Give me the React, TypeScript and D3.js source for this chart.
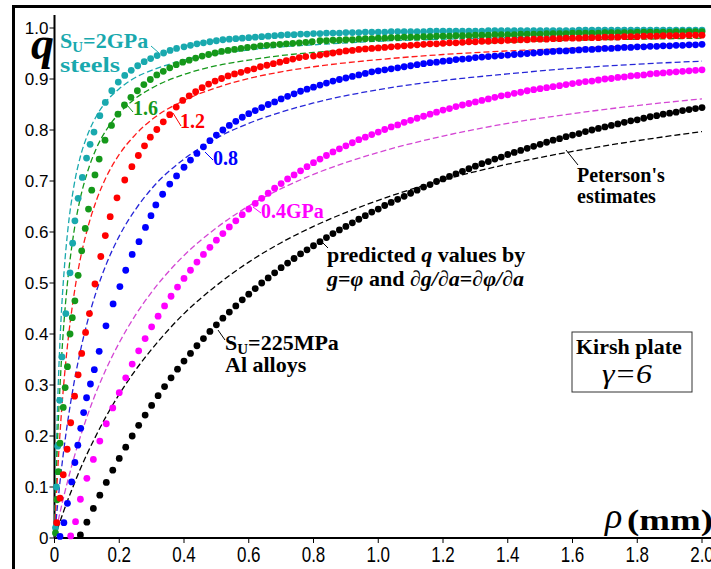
import React from 'react';
import * as d3 from 'd3';

type Pt = [number, number];

const xTicks = [0, 0.2, 0.4, 0.6, 0.8, 1.0, 1.2, 1.4, 1.6, 1.8, 2.0];
const yTicks = [0, 0.1, 0.2, 0.3, 0.4, 0.5, 0.6, 0.7, 0.8, 0.9, 1.0];

// Peterson's estimates (dashed), read at these rho values
const petersonRho = [0, 0.005, 0.01, 0.02, 0.03, 0.04, 0.06, 0.08, 0.1, 0.13, 0.16, 0.2, 0.25, 0.3, 0.4, 0.5, 0.6, 0.7, 0.8, 1.0, 1.2, 1.4, 1.6, 1.8, 2.0];
const cyanPeterson = [0, 0.156, 0.27, 0.426, 0.526, 0.597, 0.69, 0.748, 0.787, 0.828, 0.856, 0.881, 0.903, 0.917, 0.937, 0.949, 0.957, 0.963, 0.967, 0.974, 0.978, 0.981, 0.983, 0.985, 0.987];
const greenPeterson = [0, 0.111, 0.2, 0.333, 0.429, 0.5, 0.6, 0.667, 0.714, 0.765, 0.8, 0.833, 0.862, 0.882, 0.909, 0.926, 0.937, 0.946, 0.952, 0.962, 0.968, 0.972, 0.976, 0.978, 0.98];
const redPeterson = [0, 0.07, 0.132, 0.233, 0.312, 0.377, 0.476, 0.548, 0.602, 0.663, 0.708, 0.752, 0.791, 0.82, 0.858, 0.883, 0.901, 0.914, 0.924, 0.938, 0.948, 0.955, 0.96, 0.965, 0.968];
const bluePeterson = [0, 0.035, 0.068, 0.127, 0.179, 0.225, 0.303, 0.367, 0.42, 0.485, 0.537, 0.592, 0.644, 0.685, 0.743, 0.784, 0.813, 0.835, 0.853, 0.879, 0.897, 0.91, 0.921, 0.929, 0.935];
const magentaPeterson = [0, 0.015, 0.03, 0.058, 0.085, 0.11, 0.157, 0.199, 0.237, 0.288, 0.332, 0.383, 0.437, 0.482, 0.554, 0.608, 0.651, 0.685, 0.713, 0.756, 0.788, 0.813, 0.832, 0.848, 0.861];
const blackPeterson = [0, 0.0097, 0.0192, 0.0377, 0.0556, 0.0727, 0.105, 0.136, 0.164, 0.203, 0.239, 0.282, 0.329, 0.37, 0.44, 0.495, 0.541, 0.579, 0.611, 0.662, 0.702, 0.733, 0.758, 0.779, 0.797];

// predicted q values (dots)
const cyanDots: Pt[] = [[0.003,0.02],[0.006,0.1],[0.01,0.18],[0.016,0.27],[0.023,0.355],[0.035,0.44],[0.048,0.52],[0.056,0.578],[0.063,0.622],[0.073,0.666],[0.086,0.707],[0.099,0.745],[0.11,0.772],[0.122,0.796],[0.14,0.828],[0.157,0.854],[0.177,0.877],[0.197,0.894],[0.217,0.907],[0.237,0.917],[0.257,0.926],[0.277,0.934],[0.297,0.94],[0.317,0.946],[0.337,0.951],[0.357,0.956],[0.377,0.96],[0.4,0.963],[0.42,0.966],[0.44,0.969],[0.46,0.971],[0.48,0.973],[0.5,0.975],[0.52,0.977],[0.54,0.978],[0.56,0.979],[0.58,0.98],[0.6,0.981],[0.62,0.982],[0.64,0.983],[0.66,0.984],[0.68,0.985],[0.7,0.986],[0.72,0.987],[0.74,0.987],[0.76,0.988],[0.78,0.988],[0.8,0.989],[0.82,0.989],[0.84,0.99],[0.86,0.99],[0.88,0.99],[0.9,0.991],[0.92,0.991],[0.94,0.991],[0.96,0.992],[0.98,0.992],[1.0,0.992],[1.02,0.992],[1.04,0.993],[1.06,0.993],[1.08,0.993],[1.1,0.993],[1.12,0.993],[1.14,0.993],[1.16,0.994],[1.18,0.994],[1.2,0.994],[1.22,0.994],[1.24,0.994],[1.26,0.994],[1.28,0.994],[1.3,0.994],[1.32,0.994],[1.34,0.995],[1.36,0.995],[1.38,0.995],[1.4,0.995],[1.42,0.995],[1.44,0.995],[1.46,0.995],[1.48,0.995],[1.5,0.995],[1.52,0.995],[1.54,0.995],[1.56,0.995],[1.58,0.995],[1.6,0.995],[1.62,0.996],[1.64,0.996],[1.66,0.996],[1.68,0.996],[1.7,0.996],[1.72,0.996],[1.74,0.996],[1.76,0.996],[1.78,0.996],[1.8,0.996],[1.82,0.996],[1.84,0.996],[1.86,0.996],[1.88,0.996],[1.9,0.996],[1.92,0.996],[1.94,0.996],[1.96,0.996],[1.98,0.996],[2.0,0.996]];

const greenDots: Pt[] = [[0.003,0.01],[0.008,0.075],[0.012,0.13],[0.017,0.186],[0.027,0.256],[0.033,0.295],[0.04,0.336],[0.048,0.4],[0.055,0.432],[0.063,0.465],[0.073,0.515],[0.084,0.563],[0.095,0.607],[0.105,0.645],[0.115,0.682],[0.125,0.712],[0.138,0.743],[0.156,0.78],[0.176,0.809],[0.196,0.831],[0.216,0.849],[0.236,0.864],[0.256,0.877],[0.276,0.889],[0.296,0.899],[0.316,0.908],[0.336,0.915],[0.356,0.922],[0.376,0.928],[0.396,0.933],[0.416,0.937],[0.436,0.941],[0.456,0.945],[0.476,0.948],[0.496,0.951],[0.516,0.954],[0.536,0.956],[0.556,0.958],[0.576,0.96],[0.596,0.962],[0.616,0.963],[0.636,0.965],[0.656,0.966],[0.676,0.967],[0.696,0.968],[0.716,0.969],[0.736,0.97],[0.756,0.971],[0.776,0.972],[0.796,0.973],[0.82,0.975],[0.84,0.975],[0.86,0.976],[0.88,0.976],[0.9,0.977],[0.92,0.977],[0.94,0.978],[0.96,0.979],[0.98,0.979],[1.0,0.98],[1.02,0.98],[1.04,0.981],[1.06,0.981],[1.08,0.982],[1.1,0.982],[1.12,0.982],[1.14,0.983],[1.16,0.983],[1.18,0.984],[1.2,0.984],[1.22,0.984],[1.24,0.985],[1.26,0.985],[1.28,0.985],[1.3,0.986],[1.32,0.986],[1.34,0.986],[1.36,0.987],[1.38,0.987],[1.4,0.987],[1.42,0.987],[1.44,0.988],[1.46,0.988],[1.48,0.988],[1.5,0.988],[1.52,0.989],[1.54,0.989],[1.56,0.989],[1.58,0.989],[1.6,0.99],[1.62,0.99],[1.64,0.99],[1.66,0.99],[1.68,0.99],[1.7,0.991],[1.72,0.991],[1.74,0.991],[1.76,0.991],[1.78,0.991],[1.8,0.992],[1.82,0.992],[1.84,0.992],[1.86,0.992],[1.88,0.992],[1.9,0.992],[1.92,0.993],[1.94,0.993],[1.96,0.993],[1.98,0.993],[2.0,0.993]];

const redDots: Pt[] = [[0.007,0.03],[0.017,0.078],[0.027,0.124],[0.039,0.174],[0.05,0.226],[0.062,0.278],[0.073,0.32],[0.084,0.362],[0.096,0.403],[0.108,0.44],[0.125,0.498],[0.143,0.552],[0.157,0.593],[0.172,0.63],[0.193,0.667],[0.217,0.702],[0.239,0.728],[0.259,0.75],[0.278,0.769],[0.296,0.786],[0.316,0.801],[0.336,0.816],[0.356,0.83],[0.376,0.845],[0.396,0.858],[0.416,0.867],[0.436,0.875],[0.456,0.883],[0.476,0.89],[0.496,0.896],[0.516,0.901],[0.536,0.906],[0.556,0.91],[0.576,0.913],[0.596,0.917],[0.616,0.92],[0.636,0.924],[0.656,0.927],[0.676,0.93],[0.696,0.933],[0.716,0.936],[0.736,0.939],[0.756,0.942],[0.776,0.944],[0.8,0.945],[0.82,0.947],[0.84,0.949],[0.86,0.951],[0.88,0.953],[0.9,0.955],[0.92,0.956],[0.94,0.958],[0.96,0.959],[0.98,0.96],[1.0,0.961],[1.02,0.962],[1.04,0.963],[1.06,0.964],[1.08,0.965],[1.1,0.966],[1.12,0.967],[1.14,0.968],[1.16,0.969],[1.18,0.969],[1.2,0.97],[1.22,0.971],[1.24,0.971],[1.26,0.972],[1.28,0.973],[1.3,0.973],[1.32,0.974],[1.34,0.974],[1.36,0.975],[1.38,0.975],[1.4,0.976],[1.42,0.976],[1.44,0.977],[1.46,0.977],[1.48,0.978],[1.5,0.978],[1.52,0.978],[1.54,0.979],[1.56,0.979],[1.58,0.98],[1.6,0.98],[1.62,0.98],[1.64,0.981],[1.66,0.981],[1.68,0.981],[1.7,0.982],[1.72,0.982],[1.74,0.982],[1.76,0.983],[1.78,0.983],[1.8,0.983],[1.82,0.984],[1.84,0.984],[1.86,0.984],[1.88,0.985],[1.9,0.985],[1.92,0.985],[1.94,0.985],[1.96,0.986],[1.98,0.986],[2.0,0.986]];

const blueDots: Pt[] = [[0.017,0.003],[0.029,0.03],[0.04,0.068],[0.053,0.11],[0.063,0.148],[0.072,0.182],[0.081,0.215],[0.09,0.246],[0.099,0.275],[0.111,0.302],[0.123,0.33],[0.138,0.366],[0.159,0.416],[0.181,0.459],[0.202,0.493],[0.22,0.525],[0.24,0.556],[0.261,0.581],[0.281,0.609],[0.298,0.632],[0.313,0.653],[0.334,0.674],[0.356,0.694],[0.377,0.71],[0.4,0.727],[0.42,0.741],[0.44,0.754],[0.46,0.767],[0.48,0.779],[0.5,0.79],[0.52,0.8],[0.54,0.809],[0.56,0.817],[0.58,0.825],[0.6,0.832],[0.62,0.838],[0.64,0.844],[0.66,0.85],[0.68,0.855],[0.7,0.861],[0.72,0.866],[0.74,0.871],[0.76,0.876],[0.78,0.88],[0.8,0.884],[0.82,0.888],[0.84,0.892],[0.86,0.896],[0.88,0.899],[0.9,0.902],[0.92,0.905],[0.94,0.908],[0.96,0.911],[0.98,0.914],[1.0,0.916],[1.02,0.918],[1.04,0.92],[1.06,0.922],[1.08,0.924],[1.1,0.926],[1.12,0.928],[1.14,0.93],[1.16,0.932],[1.18,0.933],[1.2,0.935],[1.22,0.936],[1.24,0.938],[1.26,0.939],[1.28,0.94],[1.3,0.942],[1.32,0.943],[1.34,0.944],[1.36,0.945],[1.38,0.946],[1.4,0.947],[1.42,0.948],[1.44,0.949],[1.46,0.95],[1.48,0.951],[1.5,0.952],[1.52,0.953],[1.54,0.954],[1.56,0.955],[1.58,0.955],[1.6,0.956],[1.62,0.957],[1.64,0.958],[1.66,0.958],[1.68,0.959],[1.7,0.96],[1.72,0.96],[1.74,0.961],[1.76,0.962],[1.78,0.962],[1.8,0.963],[1.82,0.963],[1.84,0.964],[1.86,0.964],[1.88,0.965],[1.9,0.965],[1.92,0.966],[1.94,0.966],[1.96,0.967],[1.98,0.967],[2.0,0.968]];

const magentaDots: Pt[] = [[0.05,0.004],[0.065,0.032],[0.08,0.076],[0.1,0.117],[0.12,0.154],[0.14,0.19],[0.16,0.224],[0.18,0.255],[0.2,0.285],[0.22,0.314],[0.24,0.341],[0.26,0.367],[0.28,0.391],[0.3,0.414],[0.32,0.435],[0.34,0.455],[0.36,0.474],[0.38,0.492],[0.4,0.509],[0.42,0.525],[0.44,0.541],[0.46,0.556],[0.48,0.57],[0.5,0.584],[0.52,0.597],[0.54,0.61],[0.56,0.622],[0.58,0.634],[0.6,0.645],[0.62,0.656],[0.64,0.666],[0.66,0.676],[0.68,0.686],[0.7,0.695],[0.72,0.704],[0.74,0.712],[0.76,0.72],[0.78,0.728],[0.8,0.736],[0.82,0.743],[0.84,0.75],[0.86,0.757],[0.88,0.763],[0.9,0.769],[0.92,0.775],[0.94,0.781],[0.96,0.786],[0.98,0.791],[1.0,0.796],[1.02,0.801],[1.04,0.806],[1.06,0.81],[1.08,0.815],[1.1,0.819],[1.12,0.823],[1.14,0.827],[1.16,0.831],[1.18,0.835],[1.2,0.839],[1.22,0.842],[1.24,0.846],[1.26,0.849],[1.28,0.852],[1.3,0.855],[1.32,0.858],[1.34,0.861],[1.36,0.864],[1.38,0.867],[1.4,0.869],[1.42,0.872],[1.44,0.874],[1.46,0.877],[1.48,0.879],[1.5,0.881],[1.52,0.883],[1.54,0.885],[1.56,0.887],[1.58,0.889],[1.6,0.891],[1.62,0.893],[1.64,0.895],[1.66,0.896],[1.68,0.898],[1.7,0.9],[1.72,0.901],[1.74,0.903],[1.76,0.904],[1.78,0.906],[1.8,0.907],[1.82,0.908],[1.84,0.91],[1.86,0.911],[1.88,0.912],[1.9,0.913],[1.92,0.914],[1.94,0.915],[1.96,0.916],[1.98,0.917],[2.0,0.918]];

const blackDots: Pt[] = [[0.08,0.006],[0.1,0.031],[0.12,0.058],[0.14,0.084],[0.16,0.109],[0.18,0.133],[0.2,0.156],[0.22,0.178],[0.24,0.2],[0.26,0.221],[0.28,0.241],[0.3,0.26],[0.32,0.279],[0.34,0.297],[0.36,0.314],[0.38,0.331],[0.4,0.347],[0.42,0.362],[0.44,0.377],[0.46,0.391],[0.48,0.405],[0.5,0.418],[0.52,0.431],[0.54,0.443],[0.56,0.455],[0.58,0.467],[0.6,0.478],[0.62,0.489],[0.64,0.5],[0.66,0.51],[0.68,0.52],[0.7,0.53],[0.72,0.539],[0.74,0.548],[0.76,0.557],[0.78,0.565],[0.8,0.573],[0.82,0.581],[0.84,0.589],[0.86,0.597],[0.88,0.604],[0.9,0.611],[0.92,0.618],[0.94,0.625],[0.96,0.632],[0.98,0.639],[1.0,0.645],[1.02,0.652],[1.04,0.658],[1.06,0.664],[1.08,0.67],[1.1,0.676],[1.12,0.682],[1.14,0.688],[1.16,0.693],[1.18,0.699],[1.2,0.704],[1.22,0.709],[1.24,0.714],[1.26,0.719],[1.28,0.724],[1.3,0.729],[1.32,0.734],[1.34,0.738],[1.36,0.743],[1.38,0.747],[1.4,0.752],[1.42,0.756],[1.44,0.76],[1.46,0.764],[1.48,0.768],[1.5,0.772],[1.52,0.776],[1.54,0.78],[1.56,0.783],[1.58,0.787],[1.6,0.79],[1.62,0.793],[1.64,0.797],[1.66,0.8],[1.68,0.803],[1.7,0.806],[1.72,0.809],[1.74,0.812],[1.76,0.815],[1.78,0.818],[1.8,0.82],[1.82,0.823],[1.84,0.826],[1.86,0.828],[1.88,0.831],[1.9,0.833],[1.92,0.835],[1.94,0.838],[1.96,0.84],[1.98,0.842],[2.0,0.844]];

const COLORS = {
  cyan: '#19a9ae',
  green: '#15981a',
  red: '#ff0000',
  blue: '#0000ff',
  magenta: '#ff00ff',
  black: '#000000',
};

const series = [
  { dots: cyanDots, pet: cyanPeterson, color: COLORS.cyan, dash: '#19a9ae' },
  { dots: greenDots, pet: greenPeterson, color: COLORS.green, dash: '#15981a' },
  { dots: redDots, pet: redPeterson, color: COLORS.red, dash: '#ff1a1a' },
  { dots: blueDots, pet: bluePeterson, color: COLORS.blue, dash: '#2626d8' },
  { dots: magentaDots, pet: magentaPeterson, color: COLORS.magenta, dash: '#d447d4' },
  { dots: blackDots, pet: blackPeterson, color: COLORS.black, dash: '#000000' },
];

const SERIF = "'Liberation Serif', 'Times New Roman', serif";
const SANS = "'Liberation Sans', Arial, sans-serif";

export default function App() {
  const W = 711, H = 569;
  const x = d3.scaleLinear().domain([0, 2]).range([54.5, 702]);
  const y = d3.scaleLinear().domain([0, 1]).range([538, 28]);
  const line = d3.line<Pt>().x(d => x(d[0])).y(d => y(d[1])).curve(d3.curveMonotoneX);
  const fmt = (v: number) => (v === 0 ? '0' : d3.format('.1f')(v));

  return (
    <svg width={W} height={H} style={{ position: 'absolute', left: 0, top: 0, background: '#fff' }}>
      <rect x={0} y={0} width={W} height={H} fill="#fff" />
      {/* outer frame */}
      <rect x={13.5} y={6.5} width={W + 20} height={H + 20} fill="none" stroke="#000" strokeWidth={3} />

      {/* axes */}
      <line x1={x(0)} x2={x(0)} y1={15} y2={y(0)} stroke="#000" strokeWidth={2} />
      <line x1={x(0)} x2={W} y1={y(0)} y2={y(0)} stroke="#000" strokeWidth={2} />
      {yTicks.map(t => (
        <g key={'y' + t}>
          <line x1={x(0) - 5} x2={x(0)} y1={y(t)} y2={y(t)} stroke="#000" strokeWidth={1} />
          <text x={x(0) - 6} y={y(t) + 6} textAnchor="end" fontFamily={SANS} fontSize={17} fill="#000">{fmt(t)}</text>
        </g>
      ))}
      {xTicks.map(t => (
        <g key={'x' + t}>
          <line x1={x(t)} x2={x(t)} y1={y(0)} y2={y(0) + 5} stroke="#000" strokeWidth={1} />
          <text transform={`translate(${x(t)},562) scale(1,1.35)`} textAnchor="middle" fontFamily={SANS} fontSize={17} fill="#000">{fmt(t)}</text>
        </g>
      ))}

      {/* axis titles */}
      <text x={31} y={59} fontFamily={SERIF} fontSize={46} fontStyle="italic" fontWeight="bold" fill="#000">q</text>
      <text x={605} y={528} fontFamily={SERIF} fontSize={36} fontStyle="italic" fill="#000">ρ</text>
      <text x={627} y={530} fontFamily={SERIF} fontSize={30} fontWeight="bold" fill="#000" textLength={86} lengthAdjust="spacingAndGlyphs">(mm)</text>

      {/* Peterson dashed lines */}
      {series.map((s, i) => (
        <path key={'p' + i} d={line(petersonRho.map((r, j) => [r, s.pet[j]] as Pt)) || ''} fill="none" stroke={s.dash} strokeWidth={1.3} strokeDasharray="6,3" />
      ))}

      {/* predicted dots */}
      {series.map((s, i) => (
        <g key={'d' + i} fill={s.color}>
          {s.dots.map((d, j) => (
            <circle key={j} cx={x(d[0])} cy={y(d[1])} r={3.4} />
          ))}
        </g>
      ))}

      {/* labels */}
      <g fontFamily={SERIF} fontWeight="bold">
        <text x={60} y={48} fontSize={22} fill={COLORS.cyan}>S<tspan fontSize={15} dy={4}>U</tspan><tspan dy={-4}>=2GPa</tspan></text>
        <text x={60} y={72} fontSize={22} fill={COLORS.cyan} textLength={60} lengthAdjust="spacingAndGlyphs">steels</text>
        <line x1={151} y1={46} x2={159} y2={53} stroke={COLORS.cyan} strokeWidth={1} />

        <text x={133} y={115} fontSize={20} fill={COLORS.green}>1.6</text>
        <line x1={127} y1={105} x2={133} y2={112} stroke={COLORS.green} strokeWidth={1} />

        <text x={180} y={128} fontSize={20} fill={COLORS.red}>1.2</text>
        <line x1={173} y1={113} x2={181} y2={126} stroke={COLORS.red} strokeWidth={1} />

        <text x={213} y={165} fontSize={20} fill={COLORS.blue}>0.8</text>
        <line x1={205} y1={152} x2={213} y2={160} stroke={COLORS.blue} strokeWidth={1} />

        <text x={261} y={218} fontSize={20} fill={COLORS.magenta}>0.4GPa</text>
        <line x1={253} y1={207} x2={261} y2={213} stroke={COLORS.magenta} strokeWidth={1} />

        <text x={327} y={262} fontSize={22} fill="#000">predicted <tspan fontStyle="italic">q</tspan> values by</text>
        <text x={327} y={286} fontSize={22} fill="#000"><tspan fontStyle="italic">g</tspan>=<tspan fontStyle="italic">φ</tspan> and <tspan fontStyle="italic">∂g/∂a</tspan>=<tspan fontStyle="italic">∂φ/∂a</tspan></text>
        <line x1={321} y1={241} x2={328} y2={248} stroke="#000" strokeWidth={1} />

        <text x={225} y={350} fontSize={22} fill="#000">S<tspan fontSize={15} dy={4}>U</tspan><tspan dy={-4}>=225MPa</tspan></text>
        <text x={225} y={372} fontSize={22} fill="#000">Al alloys</text>
        <line x1={218} y1={330} x2={225} y2={340} stroke="#000" strokeWidth={1} />

        <text x={577} y={182} fontSize={20} fill="#000">Peterson's</text>
        <text x={577} y={203} fontSize={20} fill="#000">estimates</text>
        <line x1={566} y1={150} x2={578} y2={165} stroke="#000" strokeWidth={1} />

        <rect x={572} y={332} width={120} height={60} fill="#fff" stroke="#333" strokeWidth={1} />
        <text x={576} y={354} fontSize={22} fill="#000">Kirsh plate</text>
        <text x={602} y={383} fontSize={27} fontStyle="italic" fontWeight="normal" fill="#000" textLength={50} lengthAdjust="spacingAndGlyphs">γ=6</text>
      </g>
    </svg>
  );
}
